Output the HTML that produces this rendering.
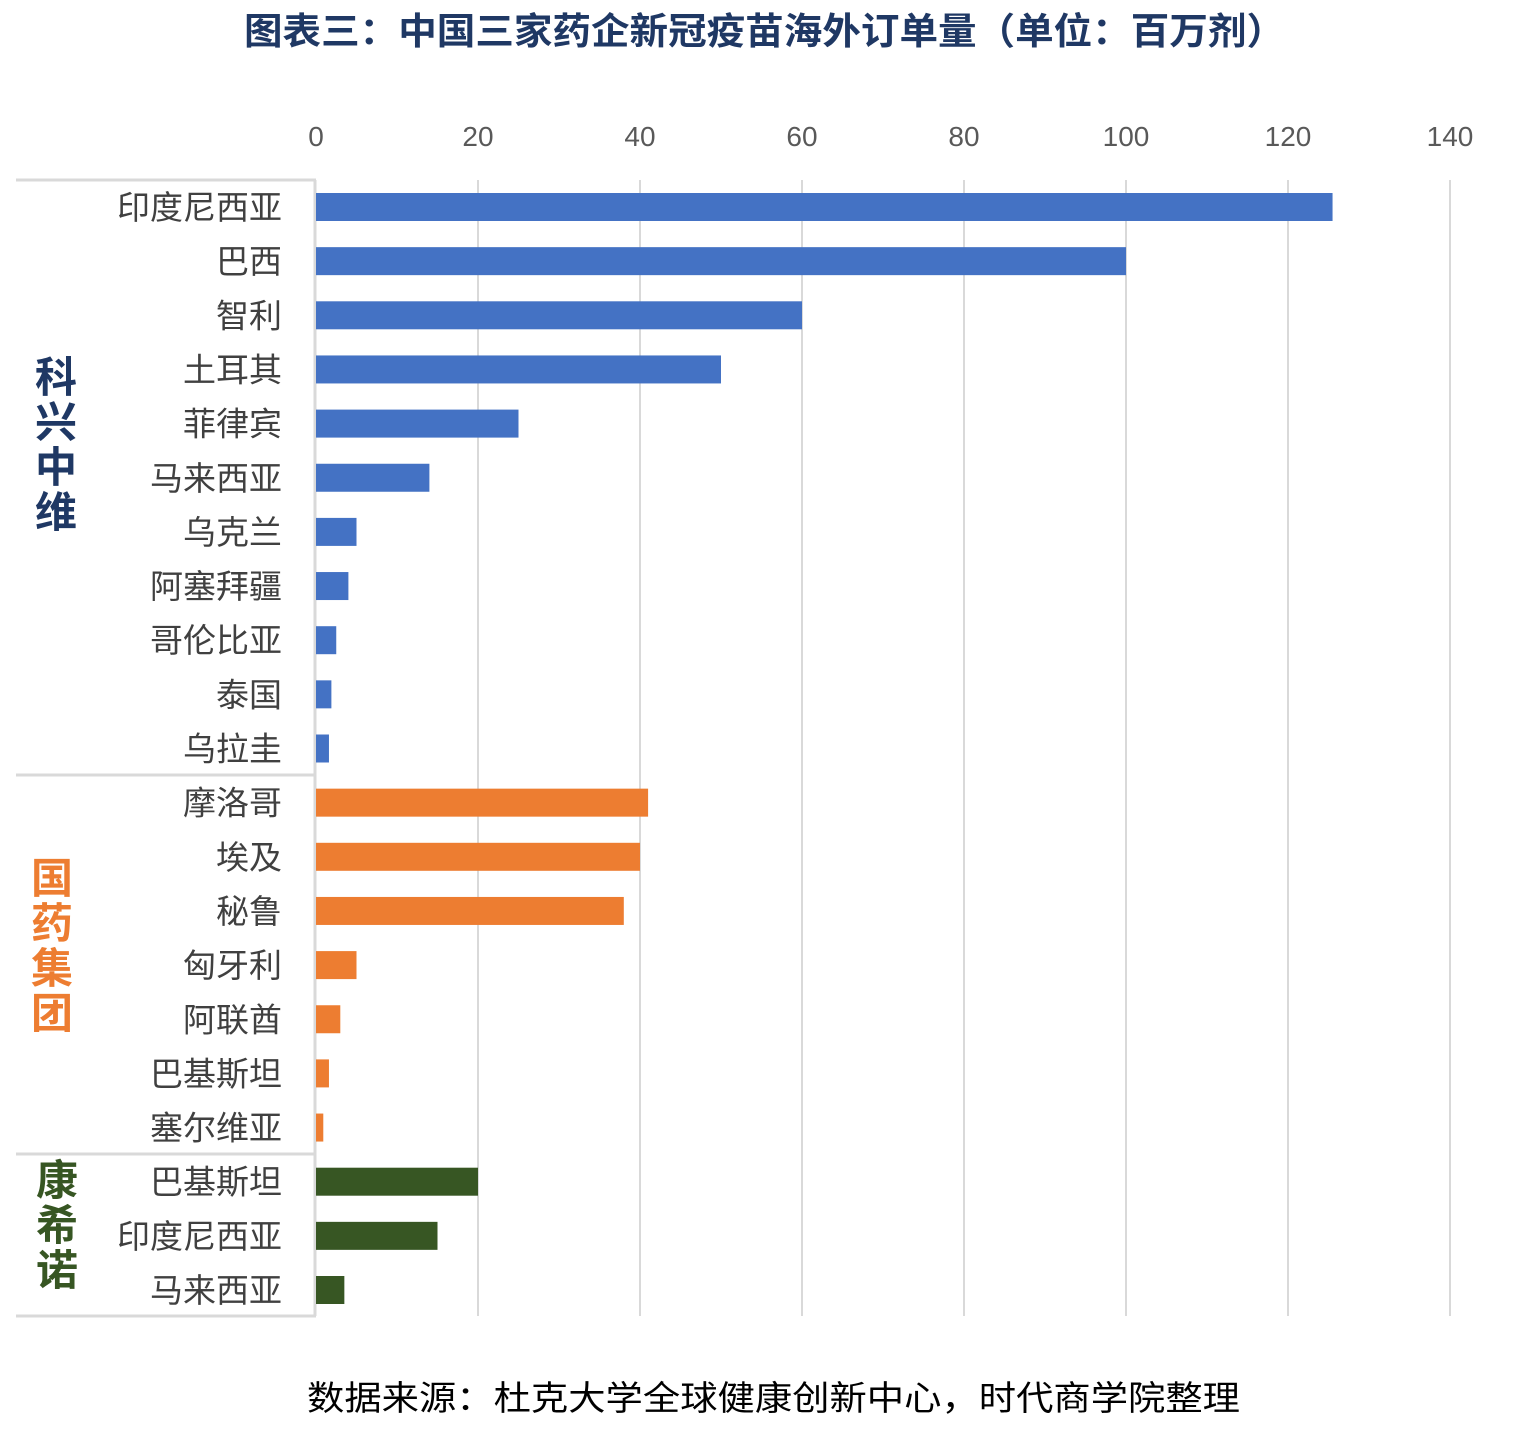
<!DOCTYPE html>
<html><head><meta charset="utf-8">
<style>
body{margin:0;background:#fff;}
svg text{font-family:"Liberation Sans","Noto Sans CJK SC",sans-serif;}
</style></head>
<body>
<svg id="chart" width="1540" height="1440" xmlns="http://www.w3.org/2000/svg">
<text x="244" y="44" textLength="1041" lengthAdjust="spacingAndGlyphs" font-size="37" font-weight="bold" fill="#1f3864">图表三：中国三家药企新冠疫苗海外订单量（单位：百万剂）</text>
<g id="grid"></g><g id="bars"></g><g id="labels"></g><g id="ticks"></g>
<g font-size="42" font-weight="bold" fill="#1f3864" text-anchor="middle">
<text x="56" y="392">科</text><text x="56" y="437">兴</text><text x="56" y="482">中</text><text x="56" y="527">维</text></g>
<g font-size="42" font-weight="bold" fill="#ed7d31" text-anchor="middle">
<text x="52" y="893">国</text><text x="52" y="938">药</text><text x="52" y="983">集</text><text x="52" y="1028">团</text></g>
<g font-size="42" font-weight="bold" fill="#375623" text-anchor="middle">
<text x="57" y="1195">康</text><text x="57" y="1240">希</text><text x="57" y="1285">诺</text></g>
<text x="307" y="1410" textLength="933" lengthAdjust="spacingAndGlyphs" font-size="34" fill="#000">数据来源：杜克大学全球健康创新中心，时代商学院整理</text>
</svg>
<script>
const categories=["印度尼西亚","巴西","智利","土耳其","菲律宾","马来西亚","乌克兰","阿塞拜疆","哥伦比亚","泰国","乌拉圭","摩洛哥","埃及","秘鲁","匈牙利","阿联酋","巴基斯坦","塞尔维亚","巴基斯坦","印度尼西亚","马来西亚"];
const values=[125.5,100,60,50,25,14,5,4,2.5,1.9,1.6,41,40,38,5,3,1.6,0.9,20,15,3.5];
const groups=[0,0,0,0,0,0,0,0,0,0,0,1,1,1,1,1,1,1,2,2,2];
const groupColors=["#4472c4","#ed7d31","#375623"];
const tickValues=[0,20,40,60,80,100,120,140];
const NS="http://www.w3.org/2000/svg";
const x0=316,x1=1450,xmax=140,y0=207,step=54.15,bh=28;
const xs=v=>x0+(x1-x0)*v/xmax;
const ys=i=>y0+i*step;
function mk(t,a,p){const e=document.createElementNS(NS,t);for(const k in a)e.setAttribute(k,a[k]);p.appendChild(e);return e;}
const grid=document.getElementById('grid'),bars=document.getElementById('bars'),labels=document.getElementById('labels'),ticks=document.getElementById('ticks');
tickValues.forEach(v=>{
 if(v>0){const l=mk('line',{x1:xs(v),x2:xs(v),y1:180,y2:1316,stroke:'#d9d9d9','stroke-width':2},grid);
 
 }
 const t=mk('text',{x:xs(v),y:146,'text-anchor':'middle','font-size':28,fill:'#595959'},ticks);t.textContent=v;
 
 
});
[180,775,1154,1316].forEach(y=>{const l=mk('line',{x1:16,x2:316,y1:y,y2:y,stroke:'#d9d9d9','stroke-width':3},grid);
 
 });
const ax=mk('line',{x1:315,x2:315,y1:180,y2:1316,stroke:'#d9d9d9','stroke-width':3},grid);


categories.forEach((c,i)=>{
 const r=mk('rect',{x:x0,y:ys(i)-bh/2,width:xs(values[i])-x0,height:bh,fill:groupColors[groups[i]]},bars);
 
 
 const t=mk('text',{x:282,y:ys(i)+12,'text-anchor':'end','font-size':33,fill:'#404040'},labels);t.textContent=c;
 
 
});
</script>
</body></html>
